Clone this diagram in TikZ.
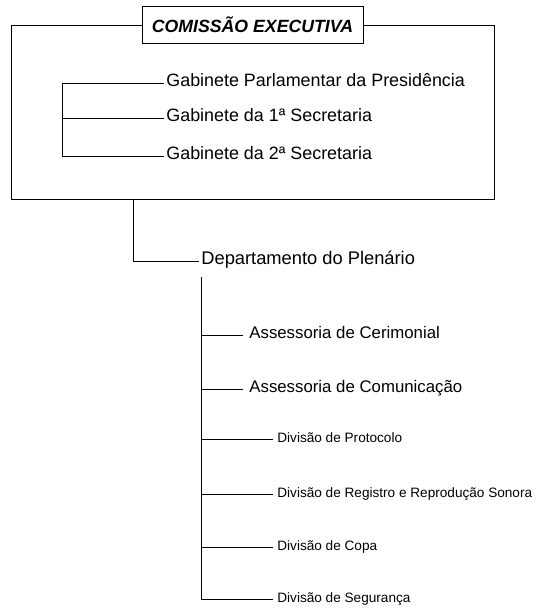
\documentclass[tikz,border=0pt]{standalone}
\usepackage{fontspec}
\setmainfont{Liberation Sans}
\usetikzlibrary{positioning}

\begin{document}
\begin{tikzpicture}[x=1pt,y=-1pt,line width=0.8pt,
  unit/.style={anchor=west,inner ysep=0pt,text height=0.72em,text depth=0pt},
  gab/.style={unit,inner xsep=2pt,font=\fontsize{17.9}{20}\selectfont},
  dep/.style={unit,inner xsep=2pt,font=\fontsize{18.3}{20}\selectfont},
  ass/.style={unit,inner xsep=6pt,font=\fontsize{16.8}{20}\selectfont},
  div/.style={unit,inner xsep=4pt,font=\fontsize{13.6}{16}\selectfont}]
\useasboundingbox (0,0) rectangle (536,611);
\node (comissao) at (252.5,112) [draw,line width=1pt,minimum width=483pt,minimum height=174pt,inner sep=0pt] {};
\node (titulo) at (252.5,24.5) [draw,fill=white,line width=1pt,minimum width=221pt,minimum height=37pt,font=\bfseries\itshape\fontsize{17.7}{20}\selectfont] {COMISSÃO EXECUTIVA};
\node (gpp) at (164,83) [gab] {Gabinete Parlamentar da Presidência};
\node (gs1) at (164,118) [gab] {Gabinete da 1ª Secretaria};
\node (gs2) at (164,156) [gab] {Gabinete da 2ª Secretaria};
\coordinate (gbar) at (62,83);
\draw (gpp.west) -- (gbar) |- (gs2.west);
\draw (gs1.west) -- (gs1.west -| gbar);
\coordinate (desce) at (133,199);
\node (plenario) at (199,261) [dep] {Departamento do Plenário};
\draw (desce) |- (plenario.west);
\coordinate (eixo) at (201,277);
\node (cerim) at (243,335) [ass] {Assessoria de Cerimonial};
\node (comun) at (243,389) [ass] {Assessoria de Comunicação};
\node (prot) at (273,439) [div] {Divisão de Protocolo};
\node (regis) at (273,494) [div] {Divisão de Registro e Reprodução Sonora};
\node (copa) at (273,547) [div] {Divisão de Copa};
\node (seg) at (273,599) [div] {Divisão de Segurança};
\draw (eixo) |- (seg.west);
\foreach \n in {cerim,comun,prot,regis,copa}
  \draw (\n.west) -- (\n.west -| eixo);
\end{tikzpicture}
\end{document}
